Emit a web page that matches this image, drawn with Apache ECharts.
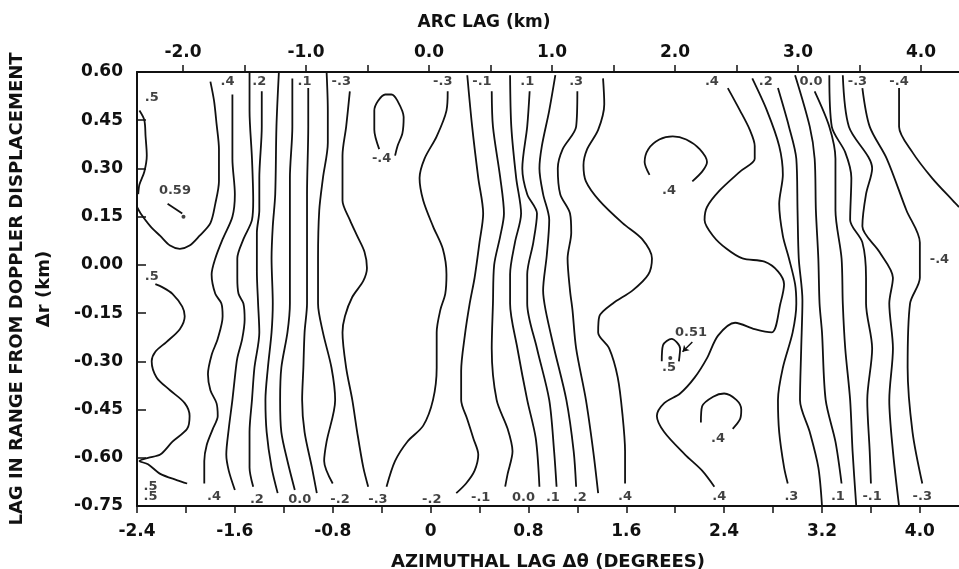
<!DOCTYPE html>
<html>
<head>
<meta charset="utf-8">
<title>Range / azimuth lag contours</title>
<script src="https://cdn.jsdelivr.net/npm/echarts@6.0.0/dist/echarts.min.js"></script>
<style>
  html, body { margin: 0; padding: 0; background: #fff; }
  #main { width: 959px; height: 569px; }
</style>
</head>
<body>
<div id="main"></div>
<script>
// axis ticks
var azTicks = [-2.4, -2.0, -1.6, -1.2, -0.8, -0.4, 0, 0.4, 0.8, 1.2, 1.6, 2.0, 2.4, 2.8, 3.2, 3.6, 4.0];
var azLabels = [-2.4, -1.6, -0.8, 0, 0.8, 1.6, 2.4, 3.2, 4.0];
var arcTicks = [-2.0, -1.5, -1.0, -0.5, 0, 0.5, 1.0, 1.5, 2.0, 2.5, 3.0, 3.5, 4.0];
var arcLabels = [-2, -1, 0, 1, 2, 3, 4];

// contour lines, [azimuthal lag (deg), range lag (km)]
// left side (high correlation)
var c5lobe = [[-2.38,0.48],[-2.34,0.45],[-2.33,0.40],[-2.32,0.34],[-2.34,0.29],[-2.38,0.25],[-2.39,0.22]];
var c5top = [[-2.40,0.18],[-2.37,0.16],[-2.29,0.12],[-2.21,0.09],[-2.13,0.06],[-2.05,0.05],[-1.97,0.06],[-1.89,0.09],[-1.80,0.13],[-1.76,0.19],[-1.73,0.26],[-1.73,0.36],[-1.75,0.44],[-1.77,0.51],[-1.80,0.57]];
var c5low = [[-2.25,-0.06],[-2.19,-0.07],[-2.11,-0.09],[-2.03,-0.13],[-2.01,-0.16],[-2.05,-0.20],[-2.16,-0.24],[-2.25,-0.27],[-2.28,-0.30],[-2.24,-0.35],[-2.13,-0.39],[-2.01,-0.43],[-1.97,-0.47],[-1.99,-0.51],[-2.11,-0.55],[-2.21,-0.59],[-2.31,-0.60],[-2.38,-0.61],[-2.31,-0.62],[-2.21,-0.65],[-2.07,-0.67],[-1.99,-0.68]];
var c4a = [[-1.62,0.53],[-1.62,0.43],[-1.62,0.33],[-1.60,0.22],[-1.62,0.15],[-1.70,0.08],[-1.76,0.02],[-1.79,-0.03],[-1.76,-0.09],[-1.71,-0.12],[-1.70,-0.16],[-1.74,-0.23],[-1.79,-0.28],[-1.82,-0.34],[-1.80,-0.39],[-1.75,-0.43],[-1.74,-0.47],[-1.78,-0.51],[-1.83,-0.56],[-1.85,-0.61],[-1.85,-0.68]];
var c3a = [[-1.48,0.60],[-1.48,0.48],[-1.46,0.33],[-1.45,0.20],[-1.46,0.14],[-1.53,0.08],[-1.58,0.02],[-1.58,-0.04],[-1.57,-0.09],[-1.53,-0.12],[-1.52,-0.17],[-1.54,-0.23],[-1.58,-0.29],[-1.60,-0.35],[-1.62,-0.42],[-1.65,-0.51],[-1.67,-0.59],[-1.65,-0.64],[-1.60,-0.70]];
var c2a = [[-1.38,0.54],[-1.38,0.43],[-1.40,0.27],[-1.40,0.17],[-1.42,0.10],[-1.42,-0.02],[-1.41,-0.12],[-1.40,-0.21],[-1.44,-0.32],[-1.46,-0.42],[-1.48,-0.52],[-1.48,-0.63],[-1.45,-0.69]];
var c1a = [[-1.24,0.60],[-1.26,0.43],[-1.27,0.22],[-1.29,0.12],[-1.30,0.02],[-1.29,-0.12],[-1.30,-0.21],[-1.33,-0.32],[-1.35,-0.42],[-1.34,-0.52],[-1.30,-0.63],[-1.25,-0.71]];
var c0a = [[-1.13,0.58],[-1.13,0.43],[-1.15,0.27],[-1.15,0.12],[-1.15,-0.12],[-1.17,-0.21],[-1.22,-0.32],[-1.23,-0.42],[-1.22,-0.52],[-1.17,-0.61],[-1.11,-0.70]];
var cm1a = [[-1.00,0.55],[-1.00,0.43],[-1.01,0.22],[-1.01,-0.12],[-1.03,-0.21],[-1.04,-0.32],[-1.05,-0.42],[-1.03,-0.52],[-0.97,-0.63],[-0.93,-0.71]];
var cm2a = [[-0.85,0.60],[-0.84,0.48],[-0.84,0.38],[-0.88,0.27],[-0.91,0.17],[-0.92,0.02],[-0.92,-0.12],[-0.88,-0.21],[-0.81,-0.32],[-0.78,-0.42],[-0.85,-0.55],[-0.87,-0.61],[-0.80,-0.68]];
var cm3a = [[-0.66,0.54],[-0.69,0.43],[-0.72,0.34],[-0.72,0.20],[-0.66,0.14],[-0.60,0.09],[-0.54,0.04],[-0.52,-0.01],[-0.55,-0.05],[-0.64,-0.10],[-0.70,-0.16],[-0.72,-0.21],[-0.69,-0.32],[-0.64,-0.42],[-0.60,-0.52],[-0.55,-0.63],[-0.51,-0.69]];
// middle (low correlation trough)
var cm4loop = [[-0.42,0.36],[-0.46,0.42],[-0.46,0.48],[-0.43,0.51],[-0.37,0.53],[-0.32,0.53],[-0.27,0.51],[-0.22,0.46],[-0.23,0.41],[-0.27,0.37],[-0.29,0.34]];
var cm3b = [[0.14,0.54],[0.13,0.48],[0.05,0.40],[-0.05,0.33],[-0.09,0.27],[-0.06,0.20],[0.02,0.12],[0.10,0.05],[0.13,-0.03],[0.12,-0.09],[0.08,-0.14],[0.05,-0.21],[0.05,-0.32],[0.02,-0.42],[-0.06,-0.50],[-0.19,-0.55],[-0.29,-0.61],[-0.36,-0.69]];
var cm2b = [[0.30,0.59],[0.34,0.43],[0.39,0.27],[0.43,0.16],[0.40,0.07],[0.36,-0.04],[0.32,-0.12],[0.28,-0.22],[0.25,-0.33],[0.25,-0.42],[0.30,-0.48],[0.35,-0.54],[0.39,-0.59],[0.36,-0.64],[0.29,-0.68],[0.21,-0.71]];
var cm1b = [[0.50,0.54],[0.51,0.43],[0.57,0.27],[0.60,0.16],[0.57,0.09],[0.52,0.00],[0.51,-0.12],[0.50,-0.26],[0.54,-0.42],[0.63,-0.51],[0.67,-0.58],[0.63,-0.65],[0.61,-0.69]];
var c0b = [[0.65,0.59],[0.66,0.43],[0.70,0.27],[0.74,0.16],[0.69,0.07],[0.65,-0.03],[0.65,-0.12],[0.71,-0.26],[0.79,-0.42],[0.86,-0.54],[0.89,-0.69]];
var c1b = [[0.81,0.54],[0.79,0.43],[0.75,0.30],[0.79,0.22],[0.87,0.16],[0.84,0.07],[0.79,-0.03],[0.79,-0.12],[0.87,-0.26],[0.97,-0.42],[1.01,-0.58],[1.03,-0.69]];
var c2b = [[1.02,0.59],[0.97,0.48],[0.91,0.37],[0.89,0.30],[0.92,0.22],[0.97,0.14],[0.95,0.03],[0.92,-0.08],[0.94,-0.14],[1.01,-0.26],[1.11,-0.42],[1.17,-0.58],[1.19,-0.69]];
var c3b = [[1.20,0.54],[1.19,0.43],[1.08,0.36],[1.04,0.30],[1.06,0.22],[1.14,0.16],[1.15,0.10],[1.12,0.02],[1.14,-0.08],[1.16,-0.14],[1.19,-0.26],[1.27,-0.42],[1.33,-0.58],[1.37,-0.71]];
var c4b = [[1.41,0.58],[1.42,0.50],[1.37,0.42],[1.28,0.36],[1.25,0.31],[1.27,0.26],[1.38,0.20],[1.57,0.13],[1.73,0.08],[1.81,0.02],[1.78,-0.03],[1.65,-0.08],[1.49,-0.12],[1.38,-0.16],[1.37,-0.21],[1.46,-0.26],[1.53,-0.35],[1.57,-0.47],[1.59,-0.58],[1.59,-0.68]];
// right side (second maximum)
var c4arch = [[1.79,0.28],[1.75,0.32],[1.78,0.36],[1.87,0.39],[1.98,0.40],[2.09,0.39],[2.20,0.36],[2.26,0.32],[2.22,0.29],[2.14,0.26]];
var c4c = [[2.43,0.55],[2.53,0.48],[2.61,0.42],[2.65,0.37],[2.65,0.33],[2.53,0.29],[2.36,0.23],[2.26,0.18],[2.24,0.14],[2.31,0.09],[2.42,0.05],[2.55,0.02],[2.73,0.01],[2.84,-0.02],[2.89,-0.06],[2.86,-0.12],[2.79,-0.21],[2.65,-0.20],[2.49,-0.18],[2.35,-0.22],[2.26,-0.29],[2.16,-0.35],[2.04,-0.40],[1.91,-0.43],[1.85,-0.47],[1.91,-0.52],[2.08,-0.59],[2.22,-0.64],[2.32,-0.69]];
var c5peak = [[1.89,-0.30],[1.90,-0.25],[1.97,-0.23],[2.04,-0.26],[2.03,-0.30]];
var c4arch2 = [[2.21,-0.49],[2.22,-0.44],[2.31,-0.41],[2.40,-0.40],[2.50,-0.42],[2.54,-0.45],[2.53,-0.48],[2.47,-0.51]];
var c3c = [[2.63,0.58],[2.75,0.48],[2.85,0.37],[2.88,0.28],[2.85,0.19],[2.88,0.09],[2.93,0.02],[2.98,-0.06],[2.99,-0.12],[2.96,-0.21],[2.88,-0.32],[2.84,-0.42],[2.85,-0.52],[2.89,-0.63],[2.92,-0.68]];
var c2c = [[2.84,0.55],[2.93,0.43],[2.99,0.33],[3.00,0.17],[3.01,0.02],[3.04,-0.11],[3.03,-0.26],[3.02,-0.42],[3.10,-0.52],[3.17,-0.63],[3.20,-0.75]];
var c1c = [[2.98,0.59],[3.10,0.43],[3.14,0.33],[3.15,0.17],[3.17,0.02],[3.18,-0.12],[3.20,-0.21],[3.23,-0.42],[3.31,-0.55],[3.36,-0.68]];
var c0c = [[3.14,0.54],[3.26,0.43],[3.31,0.33],[3.31,0.17],[3.36,0.02],[3.37,-0.12],[3.39,-0.26],[3.43,-0.42],[3.45,-0.58],[3.48,-0.75]];
var cm1c = [[3.26,0.59],[3.28,0.43],[3.39,0.35],[3.44,0.27],[3.43,0.14],[3.53,0.07],[3.56,-0.04],[3.56,-0.12],[3.61,-0.26],[3.57,-0.42],[3.59,-0.58],[3.60,-0.68]];
var cm2c = [[3.37,0.59],[3.42,0.43],[3.61,0.30],[3.56,0.22],[3.53,0.12],[3.67,0.04],[3.78,-0.04],[3.75,-0.12],[3.78,-0.26],[3.75,-0.42],[3.78,-0.58],[3.83,-0.75]];
var cm3c = [[3.53,0.55],[3.59,0.43],[3.73,0.33],[3.89,0.17],[4.00,0.07],[4.00,-0.04],[3.92,-0.12],[3.90,-0.32],[3.94,-0.52],[4.02,-0.68]];
var cm4c = [[3.83,0.55],[3.83,0.43],[3.94,0.35],[4.10,0.27],[4.27,0.20],[4.32,0.18]];

var contourLines = [c5lobe, c5top, c5low, c4a, c3a, c2a, c1a, c0a, cm1a, cm2a, cm3a,
  cm4loop, cm3b, cm2b, cm1b, c0b, c1b, c2b, c3b, c4b,
  c4arch, c4c, c5peak, c4arch2, c3c, c2c, c1c, c0c, cm1c, cm2c, cm3c, cm4c];

// contour labels [x, y, text]
var contourLabels = [
  [-2.28,0.52,'.5'], [-1.66,0.57,'.4'], [-1.40,0.57,'.2'], [-1.03,0.57,'.1'], [-0.73,0.57,'-.3'],
  [0.10,0.57,'-.3'], [0.42,0.57,'-.1'], [0.79,0.57,'.1'], [1.19,0.57,'.3'],
  [2.30,0.57,'.4'], [2.74,0.57,'.2'], [3.11,0.57,'0.0'], [3.49,0.57,'-.3'], [3.83,0.57,'-.4'],
  [-2.09,0.23,'0.59'], [-0.40,0.33,'-.4'], [1.95,0.23,'.4'], [2.13,-0.21,'0.51'], [1.95,-0.32,'.5'],
  [2.35,-0.54,'.4'], [4.16,0.015,'-.4'], [-2.28,-0.035,'.5'],
  [-2.29,-0.69,'.5'], [-2.29,-0.72,'.5'], [-1.77,-0.72,'.4'], [-1.42,-0.73,'.2'], [-1.07,-0.73,'0.0'],
  [-0.74,-0.73,'-.2'], [-0.43,-0.73,'-.3'], [0.01,-0.73,'-.2'], [0.41,-0.725,'-.1'], [0.76,-0.725,'0.0'],
  [1.00,-0.725,'.1'], [1.22,-0.725,'.2'], [1.59,-0.72,'.4'], [2.36,-0.72,'.4'], [2.95,-0.72,'.3'],
  [3.33,-0.72,'.1'], [3.61,-0.72,'-.1'], [4.02,-0.72,'-.3']
];
// peak markers and their leaders
var peakDots = [[-2.02,0.15], [1.96,-0.29]];
var peak59Leader = [[-2.15,0.19], [-2.03,0.16]];
var peak51Leader = [[2.14,-0.24], [2.06,-0.27]];

var FONT = 'DejaVu Sans';
var INK = '#111';

(function () {
    var myChart = echarts.init(document.getElementById('main'), null, { renderer: 'canvas' });

    var series = contourLines.map(function (pts) {
        return {
            type: 'line',
            data: pts,
            showSymbol: false,
            symbol: 'none',
            smooth: 0.3,
            silent: true,
            lineStyle: { color: INK, width: 1.8 }
        };
    });

    // contour value labels
    series.push({
        type: 'scatter',
        silent: true,
        symbolSize: 1,
        itemStyle: { color: 'transparent' },
        data: contourLabels.map(function (l) { return { value: [l[0], l[1]], name: l[2] }; }),
        label: {
            show: true,
            position: 'inside',
            formatter: '{b}',
            color: INK,
            fontFamily: FONT,
            fontWeight: 'bold',
            fontSize: 13
        }
    });

    series.push({
        type: 'scatter',
        silent: true,
        symbolSize: 4,
        itemStyle: { color: INK },
        data: peakDots
    });

    series.push({
        type: 'lines',
        coordinateSystem: 'cartesian2d',
        silent: true,
        symbol: ['none', 'none'],
        lineStyle: { color: INK, width: 1.8, opacity: 1 },
        data: [{ coords: peak59Leader }]
    });
    series.push({
        type: 'lines',
        coordinateSystem: 'cartesian2d',
        silent: true,
        symbol: ['none', 'arrow'],
        symbolSize: 6,
        lineStyle: { color: INK, width: 1.5, opacity: 1 },
        data: [{ coords: peak51Leader }]
    });

    var axisText = { color: INK, fontFamily: FONT, fontSize: 17, fontWeight: 'bold' };

    var option = {
        animation: false,
        backgroundColor: '#fff',
        grid: { left: 137, right: 0, top: 72, bottom: 63, containLabel: false, outerBoundsMode: 'none' },
        xAxis: [
            {
                type: 'value',
                position: 'bottom',
                min: -2.4,
                max: 4.32,
                name: 'AZIMUTHAL LAG \u0394\u03B8 (DEGREES)',
                nameLocation: 'middle',
                nameGap: 47,
                nameTextStyle: { color: INK, fontFamily: FONT, fontSize: 18, fontWeight: 'bold' },
                axisLine: { show: true, onZero: false, lineStyle: { color: INK, width: 2 } },
                axisTick: { show: true, inside: false, length: 7, customValues: azTicks, lineStyle: { color: INK, width: 1.5 } },
                axisLabel: Object.assign({
                    margin: 17,
                    customValues: azLabels,
                    formatter: function (v) { return v === 0 ? '0' : v.toFixed(1); }
                }, axisText),
                splitLine: { show: false }
            },
            {
                type: 'value',
                position: 'top',
                min: -2.374,
                max: 4.309,
                name: 'ARC LAG (km)',
                nameLocation: 'middle',
                nameGap: 41,
                nameTextStyle: { color: INK, fontFamily: FONT, fontSize: 17, fontWeight: 'bold', padding: [0, 128, 0, 0] },
                axisLine: { show: true, onZero: false, lineStyle: { color: INK, width: 2 } },
                axisTick: { show: true, inside: false, length: 7, customValues: arcTicks, lineStyle: { color: INK, width: 1.5 } },
                axisLabel: Object.assign({
                    margin: 11,
                    customValues: arcLabels,
                    formatter: function (v) { return v.toFixed(1); }
                }, axisText),
                splitLine: { show: false }
            }
        ],
        yAxis: {
            type: 'value',
            min: -0.75,
            max: 0.6,
            interval: 0.15,
            name: 'LAG IN RANGE FROM DOPPLER DISPLACEMENT\n\u0394r (km)',
            nameLocation: 'middle',
            nameGap: 79,
            nameTextStyle: { color: INK, fontFamily: FONT, fontSize: 18, fontWeight: 'bold', lineHeight: 27, align: 'center' },
            axisLine: { show: true, onZero: false, lineStyle: { color: INK, width: 2 } },
            axisTick: { show: true, inside: true, length: 9, lineStyle: { color: INK, width: 1.5 } },
            axisLabel: Object.assign({
                margin: 14,
                formatter: function (v) { return v.toFixed(2); }
            }, axisText),
            splitLine: { show: false }
        },
        series: series
    };

    window.addEventListener('resize', function () {
        myChart.resize();
    });

    myChart.setOption(option);
})();
</script>
</body>
</html>
